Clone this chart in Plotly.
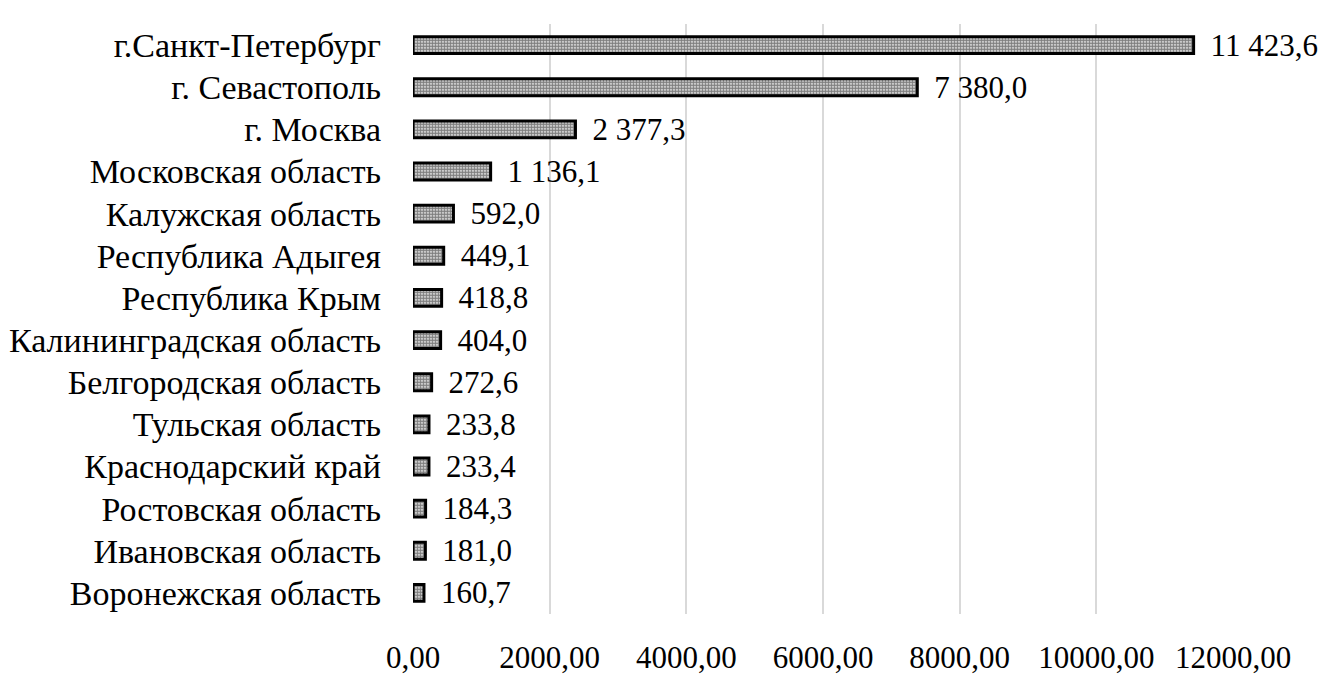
import plotly.graph_objects as go

regions = ["г.Санкт-Петербург", "г. Севастополь", "г. Москва", "Московская область",
           "Калужская область", "Республика Адыгея", "Республика Крым",
           "Калининградская область", "Белгородская область", "Тульская область",
           "Краснодарский край", "Ростовская область", "Ивановская область",
           "Воронежская область"]
values = [11423.6, 7380.0, 2377.3, 1136.1, 592.0, 449.1, 418.8, 404.0,
          272.6, 233.8, 233.4, 184.3, 181.0, 160.7]
tick_vals = [0, 2000, 4000, 6000, 8000, 10000, 12000]
tick_text = ["0,00", "2000,00", "4000,00", "6000,00", "8000,00", "10000,00", "12000,00"]

FONT = "Liberation Serif, Times New Roman, serif"


def fmt(v):
    s = f"{v:,.1f}".replace(",", " ").replace(".", ",")
    return "\u00a0\u2009" + s


fig = go.Figure(go.Bar(
    y=regions, x=values, orientation="h",
    text=[fmt(v) for v in values], textposition="outside", cliponaxis=False,
    textfont=dict(family=FONT, size=31, color="black"),
    marker=dict(color="white",
                line=dict(color="black", width=3),
                pattern=dict(shape=".", fgcolor="black", bgcolor="white",
                             size=3, solidity=0.75)),
))

fig.update_layout(
    width=1328, height=695,
    margin=dict(l=405, r=103, t=16, b=89, autoexpand=False),
    paper_bgcolor="white", plot_bgcolor="white",
    bargap=0.6, showlegend=False,
    uniformtext=dict(minsize=31, mode="show"),
    font=dict(family=FONT, size=32, color="black"),
)
fig.update_xaxes(range=[0, 12000], tickvals=tick_vals, ticktext=tick_text,
                 showgrid=True, gridcolor="#d9d9d9", gridwidth=2,
                 zeroline=False, showline=False, ticks="", automargin=False,
                 ticklabelstandoff=22,
                 tickfont=dict(family=FONT, size=31, color="black"))
fig.update_yaxes(autorange="reversed", showgrid=False, ticks="", automargin=False,
                 showline=False, ticklabelstandoff=31,
                 tickfont=dict(family=FONT, size=34, color="black"))

fig.write_html("out.html")
